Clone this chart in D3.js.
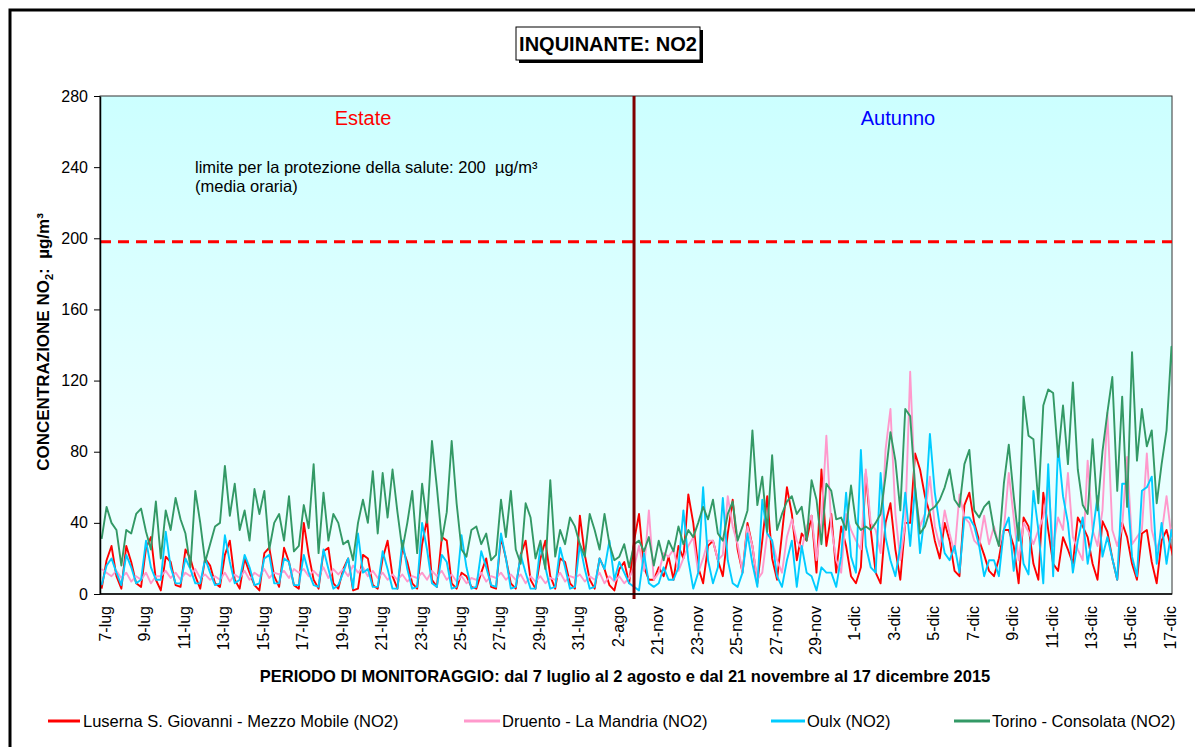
<!DOCTYPE html>
<html>
<head>
<meta charset="utf-8">
<script src="https://cdn.jsdelivr.net/npm/d3@7"></script>
<style>
  body { margin: 0; background: #fff; }
  text { font-family: "Liberation Sans", Arial, sans-serif; }
</style>
</head>
<body>
<svg id="chart" width="1195" height="747"></svg>
<script>
// ---- data (hourly NO2, 4 samples a day: 02, 08, 14, 20h) ----
const sampleHours = [2, 8, 14, 20];
const autumnStartDay = 27;      // day index where the autumn campaign begins
const dividerDay = 27.08;

const summerLuserna = [
  3,19,27,10, 3,27,18,6, 4,26,32,8, 2,21,18,5, 4,25,20,10, 3,20,16,6, 4,22,30,8, 3,20,12,5, 2,23,26,10, 4,26,18,5,
  3,40,22,8, 3,24,26,6, 3,14,20,2, 3,22,20,5, 3,20,30,10, 3,26,18,6, 3,28,42,8, 4,32,30,6, 3,12,10,4, 3,12,20,4,
  3,32,20,6, 3,22,30,8, 3,20,30,10, 3,20,18,6, 3,44,22,8, 3,20,14,5, 2,14,18,6];
const summerDruento = [
  14,12,10,13, 9,12,7,10, 8,12,6,10, 10,13,9,12, 8,12,10,14, 9,11,8,10, 8,12,7,11, 9,13,8,12, 10,14,9,12, 11,13,9,14,
  12,14,10,13, 10,15,9,14, 11,14,10,16, 12,15,10,13, 9,12,8,11, 8,11,7,10, 9,12,8,13, 10,13,8,11, 7,10,6,9, 8,12,7,10,
  9,12,8,11, 8,11,6,10, 7,10,6,9, 8,12,7,10, 9,11,7,10, 8,12,6,10, 7,10,6,9];
const summerOulx = [
  5,16,20,12, 5,22,15,6, 8,30,15,8, 8,35,15,6, 6,20,14,6, 6,20,12,5, 6,33,18,6, 8,22,15,5, 6,20,22,6, 6,20,18,5,
  5,22,12,5, 4,25,14,3, 5,12,20,3, 34,12,14,4, 4,24,14,3, 3,30,14,3, 4,40,25,6, 4,22,18,3, 4,33,15,3, 4,24,15,5,
  4,34,20,3, 4,22,12,3, 3,27,15,3, 4,26,15,3, 4,28,14,3, 4,20,14,30, 8,18,12,6];
const summerTorino = [
  31,49,40,36, 16,36,34,45, 48,35,25,52, 20,47,36,54, 42,34,15,58, 40,18,28,38, 40,72,44,62, 36,47,30,59, 45,58,25,40, 45,30,55,24,
  27,50,37,73, 23,57,30,45, 40,28,30,19, 40,53,40,69, 34,68,43,70, 46,25,40,58, 23,62,40,86, 60,30,46,86, 51,25,21,36, 38,28,34,19,
  22,53,32,58, 25,17,51,43, 20,30,14,64, 21,36,28,43, 38,28,21,45, 36,25,45,28, 19,21,28,15];

const autumnLuserna = [
  30,45,15,8, 8,15,10,21, 8,27,20,56, 40,15,6,27, 30,19,10,34, 53,25,12,40, 27,6,30,55, 20,8,34,60, 45,19,34,30, 44,12,70,27,
  45,12,38,27, 10,6,15,68, 36,12,6,40, 51,25,8,40, 40,79,70,55, 45,30,20,40, 30,13,10,50, 57,40,30,22, 13,10,20,36, 36,27,6,43,
  38,17,8,57, 36,17,13,32, 25,17,43,38, 32,17,8,41, 35,20,8,40, 32,17,8,34, 36,18,6,30, 36,25,12];
const autumnDruento = [
  15,27,13,47, 8,12,23,21, 25,13,20,27, 32,12,20,30, 30,19,22,55, 38,28,12,38, 27,8,12,34, 30,19,12,32, 42,30,25,38, 44,19,40,89,
  38,19,12,45, 36,30,25,70, 40,36,23,81, 104,45,19,40, 125,57,38,45, 66,38,27,47, 34,23,56,43, 40,30,27,44, 28,38,27,36, 68,43,19,40,
  35,28,36,43, 62,27,43,36, 68,32,25,19, 75,36,27,47, 102,36,27,38, 77,28,32,36, 79,36,25,34, 55,32,28];
const autumnOulx = [
  4,2,23,6, 4,6,15,8, 8,15,47,19, 3,12,60,19, 6,15,54,19, 6,4,12,34, 17,4,53,34, 30,10,4,19, 30,4,27,12, 10,2,15,12,
  12,4,21,57, 21,12,81,27, 15,12,68,32, 19,10,27,57, 27,60,23,45, 90,57,38,23, 19,27,12,43, 43,38,27,10, 19,19,10,36, 43,13,40,17,
  11,58,36,6, 73,10,83,55, 40,12,30,43, 17,34,55,21, 32,20,8,62, 62,21,10,58, 60,66,17,40, 17,36,19];
const autumnTorino = [
  28,30,24,32, 16,30,19,30, 24,38,28,36, 32,40,49,42, 53,34,30,45, 52,30,38,47, 92,50,66,35, 78,36,45,52, 55,45,49,30, 64,53,28,62,
  58,42,43,36, 61,40,36,38, 36,40,45,66, 91,75,47,104, 100,60,34,38, 47,49,53,60, 70,53,49,73, 81,47,43,49, 52,36,27,62, 84,55,30,111,
  89,87,51,106, 115,113,77,106, 73,119,70,50, 45,87,47,80, 102,122,58,111, 49,136,75,104, 83,92,51,73, 92,139,100];

const summerLabels = ["7-lug","9-lug","11-lug","13-lug","15-lug","17-lug","19-lug","21-lug","23-lug","25-lug","27-lug","29-lug","31-lug","2-ago"];
const summerLabelDays = [0,2,4,6,8,10,12,14,16,18,20,22,24,26];
const autumnLabels = ["21-nov","23-nov","25-nov","27-nov","29-nov","1-dic","3-dic","5-dic","7-dic","9-dic","11-dic","13-dic","15-dic","17-dic"];
const autumnLabelDays = [28,30,32,34,36,38,40,42,44,46,48,50,52,54];

const yTicks = [0, 40, 80, 120, 160, 200, 240, 280];
const limitValue = 198;   // dashed line as drawn in the picture

const seriesNames = [
  "Luserna S. Giovanni - Mezzo Mobile (NO2)",
  "Druento - La Mandria (NO2)",
  "Oulx (NO2)",
  "Torino - Consolata (NO2)"
];
const seriesColors = ["#ff0000", "#ff99cc", "#00ccff", "#339966"];

// ---- build point lists ----
function buildSeries(summer, autumn) {
  const pts = [];
  summer.forEach((v, i) => pts.push({ t: Math.floor(i / 4) + sampleHours[i % 4] / 24, v }));
  autumn.forEach((v, i) => pts.push({ t: autumnStartDay + Math.floor(i / 4) + sampleHours[i % 4] / 24, v }));
  return pts;
}
const series = [
  buildSeries(summerLuserna, autumnLuserna),
  buildSeries(summerDruento, autumnDruento),
  buildSeries(summerOulx, autumnOulx),
  buildSeries(summerTorino, autumnTorino)
];

// ---- layout ----
const svg = d3.select("#chart");
const plot = { left: 100, right: 1172, top: 96, bottom: 594 };

const x = d3.scaleLinear().domain([0, 54.36]).range([plot.left, plot.right]);
const y = d3.scaleLinear().domain([0, 280]).range([plot.bottom, plot.top]);

// outer frame (only top and left edges are visible)
svg.append("path")
  .attr("d", "M10,747 V10 H1195")
  .attr("fill", "none")
  .attr("stroke", "#000")
  .attr("stroke-width", 3);

// title box with shadow
svg.append("rect").attr("x", 519).attr("y", 30).attr("width", 184).attr("height", 33).attr("fill", "#000");
svg.append("rect").attr("x", 516).attr("y", 27).attr("width", 184).attr("height", 33)
  .attr("fill", "#fff").attr("stroke", "#000").attr("stroke-width", 1);
svg.append("text")
  .attr("x", 608).attr("y", 51)
  .attr("text-anchor", "middle")
  .attr("font-size", 20).attr("font-weight", "bold")
  .text("INQUINANTE: NO2");

// plot background gradient
const defs = svg.append("defs");
const grad = defs.append("linearGradient")
  .attr("id", "bg").attr("x1", 0).attr("y1", 0).attr("x2", 0).attr("y2", 1);
grad.append("stop").attr("offset", "0%").attr("stop-color", "#ccffff");
grad.append("stop").attr("offset", "100%").attr("stop-color", "#f2ffff");

defs.append("clipPath").attr("id", "clip")
  .append("rect")
  .attr("x", plot.left).attr("y", plot.top)
  .attr("width", plot.right - plot.left).attr("height", plot.bottom - plot.top);

svg.append("rect")
  .attr("x", plot.left).attr("y", plot.top)
  .attr("width", plot.right - plot.left).attr("height", plot.bottom - plot.top)
  .attr("fill", "url(#bg)")
  .attr("stroke", "#333").attr("stroke-width", 1);

// texts inside the plot
svg.append("text").attr("x", 363).attr("y", 125).attr("text-anchor", "middle")
  .attr("font-size", 20).attr("fill", "#ff0000").text("Estate");
svg.append("text").attr("x", 898).attr("y", 125).attr("text-anchor", "middle")
  .attr("font-size", 20).attr("fill", "#0000ff").text("Autunno");
svg.append("text").attr("x", 195).attr("y", 173).attr("font-size", 16.5)
  .text("limite per la protezione della salute: 200\u00a0 µg/m³");
svg.append("text").attr("x", 195).attr("y", 192).attr("font-size", 16.5)
  .text("(media oraria)");

// limit line
svg.append("line")
  .attr("x1", plot.left).attr("x2", plot.right)
  .attr("y1", y(limitValue)).attr("y2", y(limitValue))
  .attr("stroke", "#ff0000").attr("stroke-width", 3)
  .attr("stroke-dasharray", "11,7");

// series lines
const line = d3.line().x(d => x(d.t)).y(d => y(d.v));
const lines = svg.append("g").attr("clip-path", "url(#clip)");
series.forEach((s, i) => {
  lines.append("path")
    .attr("d", line(s))
    .attr("fill", "none")
    .attr("stroke", seriesColors[i])
    .attr("stroke-width", 1.9)
    .attr("stroke-linejoin", "round");
});

// season divider
svg.append("line")
  .attr("x1", x(dividerDay)).attr("x2", x(dividerDay))
  .attr("y1", plot.top).attr("y2", plot.bottom + 5)
  .attr("stroke", "#800000").attr("stroke-width", 3);

// y axis
const yAxis = svg.append("g")
  .attr("transform", `translate(${plot.left},0)`)
  .call(d3.axisLeft(y).tickValues(yTicks).tickSize(6).tickSizeOuter(0).tickPadding(6));
yAxis.select(".domain").attr("stroke", "#000").attr("stroke-width", 1.5);
yAxis.selectAll(".tick line").attr("stroke", "#000");
yAxis.selectAll("text").attr("font-size", 16).attr("fill", "#000")
  .style("font-family", '"Liberation Sans", Arial, sans-serif');

// x axis (bottom line + rotated day labels)
svg.append("line")
  .attr("x1", plot.left).attr("x2", plot.right)
  .attr("y1", plot.bottom).attr("y2", plot.bottom)
  .attr("stroke", "#000").attr("stroke-width", 1.5);

const labelDays = summerLabelDays.concat(autumnLabelDays);
const labelTexts = summerLabels.concat(autumnLabels);
const xAxis = svg.append("g")
  .attr("transform", `translate(0,${plot.bottom})`)
  .call(d3.axisBottom(x)
    .tickValues(labelDays.map(d => d + 0.25))
    .tickFormat((d, i) => labelTexts[i])
    .tickSize(0));
xAxis.select(".domain").remove();
xAxis.selectAll("text")
  .attr("transform", "rotate(-90)")
  .attr("text-anchor", "end")
  .attr("x", -12).attr("y", 0).attr("dy", "0.35em")
  .attr("font-size", 16).attr("fill", "#000")
  .style("font-family", '"Liberation Sans", Arial, sans-serif');

// axis titles
const yTitle = svg.append("text")
  .attr("transform", "translate(49,342) rotate(-90)")
  .attr("text-anchor", "middle")
  .attr("font-size", 17).attr("font-weight", "bold");
yTitle.append("tspan").text("CONCENTRAZIONE NO");
yTitle.append("tspan").attr("font-size", 11).attr("dy", 4).text("2");
yTitle.append("tspan").attr("dy", -4).text(":\u00a0 µg/m³");

svg.append("text")
  .attr("x", 625).attr("y", 682)
  .attr("text-anchor", "middle")
  .attr("font-size", 16.5).attr("font-weight", "bold")
  .text("PERIODO DI MONITORAGGIO: dal 7 luglio al 2 agosto e dal 21 novembre al 17 dicembre 2015");

// legend
const legendItems = [
  { x1: 48, x2: 80, tx: 83 },
  { x1: 464, x2: 500, tx: 502 },
  { x1: 771, x2: 805, tx: 807 },
  { x1: 954, x2: 990, tx: 992 }
];
const legend = svg.append("g");
legendItems.forEach((it, i) => {
  legend.append("line")
    .attr("x1", it.x1).attr("x2", it.x2).attr("y1", 721).attr("y2", 721)
    .attr("stroke", seriesColors[i]).attr("stroke-width", 3);
  legend.append("text")
    .attr("x", it.tx).attr("y", 727)
    .attr("font-size", 16.5)
    .text(seriesNames[i]);
});
</script>
</body>
</html>
